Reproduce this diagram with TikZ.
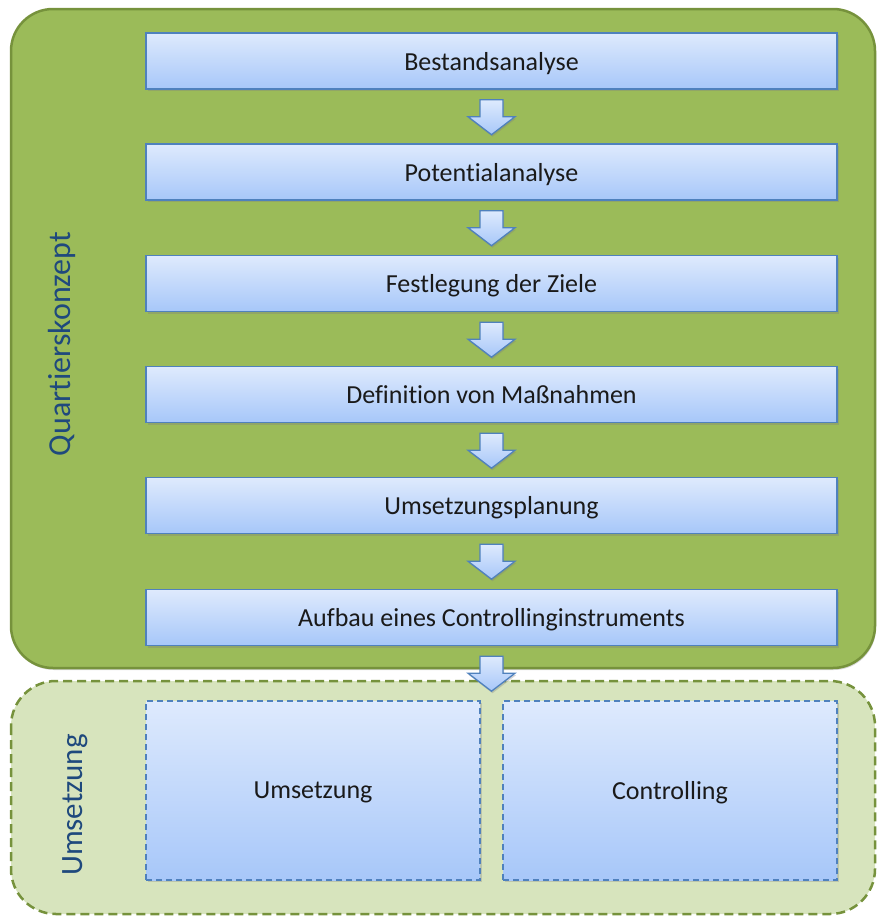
\documentclass[tikz,border=0pt]{standalone}
\usepackage{fontspec}
\setmainfont[Ligatures=NoCommon]{Carlito}
\usetikzlibrary{shadows,calc}
\definecolor{grfill}{HTML}{9BBB59}
\definecolor{grline}{HTML}{76923C}
\definecolor{ltgreen}{HTML}{D7E4BD}
\definecolor{bltop}{HTML}{DEEAFD}
\definecolor{blbot}{HTML}{A7C7F9}
\definecolor{blline}{HTML}{4F81BD}
\definecolor{lbl}{HTML}{1F497D}
\definecolor{txt}{HTML}{1A1A1A}
\tikzset{
  stepbox/.style={draw=blline, line width=1.4pt, top color=bltop, bottom color=blbot,
    minimum width=691pt, minimum height=56pt, inner sep=0pt, text=txt, text depth=0pt,
    font=\fontsize{26}{30}\selectfont,
    drop shadow={shadow xshift=2pt, shadow yshift=-2pt, opacity=0.35}},
  arrowshape/.style={draw=blline, line width=1.3pt, top color=bltop, bottom color=blbot, line join=miter,
    drop shadow={shadow xshift=1pt, shadow yshift=-2pt, opacity=0.35}},
  dnarrow/.pic={\path[arrowshape] (-11.5,0) -- (11.5,0) -- (11.5,17) -- (23.5,17) -- (0,35) -- (-23.5,17) -- (-11.5,17) -- cycle;},
  subbox/.style={draw=blline, dash pattern=on 6pt off 4pt, line width=1.5pt, top color=bltop, bottom color=blbot,
    minimum width=334pt, minimum height=179pt, inner sep=0pt, text=txt, text depth=0pt,
    font=\fontsize{26}{30}\selectfont,
    drop shadow={shadow xshift=2pt, shadow yshift=-2pt, opacity=0.3}},
  sidelabel/.style={rotate=90, text=lbl, font=\fontsize{32}{36}\selectfont}
}
\begin{document}
\begin{tikzpicture}[x=1pt,y=-1pt]
\useasboundingbox (0,0) rectangle (877,918);
% containers
\draw[grline, line width=2.5pt, fill=grfill, rounded corners=42pt,
  drop shadow={shadow xshift=1pt, shadow yshift=-2pt, opacity=0.3}] (11,9) rectangle (875,668);
\draw[grline, line width=2.5pt, dash pattern=on 9pt off 5pt, fill=ltgreen, rounded corners=45pt] (11,681) rectangle (875,914);
% labels
\node[sidelabel] (lq) at (62,344) {Quartierskonzept};
\node[sidelabel, font=\fontsize{31}{35}\selectfont] (lu) at (75,805) {Umsetzung};
% steps
\node[stepbox] (b1) at (491.5,61) {Bestandsanalyse};
\node[stepbox] (b2) at (491.5,172) {Potentialanalyse};
\node[stepbox] (b3) at (491.5,283.5) {Festlegung der Ziele};
\node[stepbox] (b4) at (491.5,394.5) {Definition von Maßnahmen};
\node[stepbox] (b5) at (491.5,505.5) {Umsetzungsplanung};
\node[stepbox] (b6) at (491.5,617.5) {Aufbau eines Controllinginstruments};
% arrows
\foreach \a in {b1,b2,b3,b4,b5}{
  \pic at ($(\a.south)+(0,10)$) {dnarrow};
}
\node[subbox] (u) at (313,790.5) {Umsetzung};
\node[subbox] (c) at (670,790.5) {Controlling};
\pic at ($(b6.south)+(0,10)$) {dnarrow};
\end{tikzpicture}
\end{document}
